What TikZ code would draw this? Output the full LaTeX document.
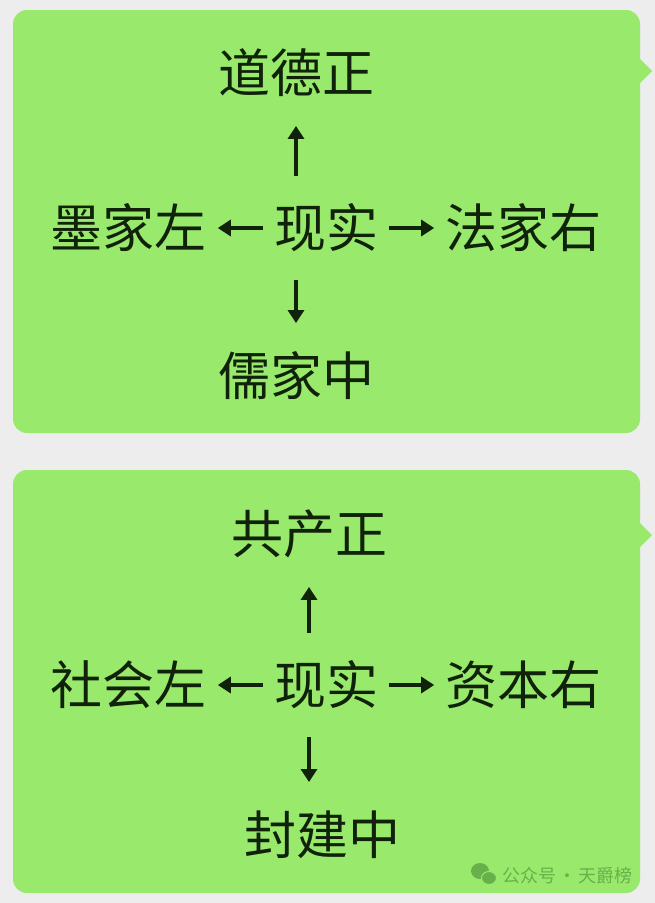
\documentclass[tikz,border=0pt]{standalone}
\usepackage{fontspec}
\newfontfamily\cjk{Noto Sans CJK SC}
\usepackage{tikz}
\usetikzlibrary{arrows.meta,positioning}
\definecolor{chatbg}{RGB}{237, 237, 237}
\definecolor{bubble}{RGB}{153, 234, 108}
\definecolor{ink}{RGB}{16, 34, 10}
\definecolor{markgreen}{RGB}{104, 176, 74}
\tikzstyle{chat} = [fill=bubble, rounded corners=14pt]
\tikzstyle{word} = [inner sep=0pt, text=ink, font=\cjk\fontsize{52pt}{52pt}\selectfont, text height=42.6pt, text depth=3.1pt]
\tikzstyle{marktext} = [inner sep=0pt, text=markgreen, font=\cjk\fontsize{18pt}{18pt}\selectfont, anchor=west]
\tikzstyle{tedge} = [draw, ink, line width=3.8pt, -{Triangle[length=13pt,width=16pt]}, shorten <=11pt, shorten >=11pt]
\tikzstyle{vedge} = [tedge, shorten <=29pt, shorten >=30pt]

\begin{document}
\begin{tikzpicture}[x=1pt, y=-1pt]

% background =============================
\fill[chatbg] (0,0) rectangle (655,903);
\useasboundingbox (0,0) rectangle (655,903);

% bubbles
\fill[chat] (13,10) rectangle (640,433);
\fill[bubble] (639,58) -- (652,71) -- (639,84) -- cycle;
\fill[chat] (13,470) rectangle (640,893);
\fill[bubble] (639,522) -- (652,535) -- (639,548) -- cycle;

% first bubble ===========================
\node[word] (real1) at (326,228) {现实};
\node[word, left=67pt of real1] (left1) {墨家左};
\node[word, right=67pt of real1] (right1) {法家右};
\node[word, above=109pt of real1, xshift=-30pt] (top1) {道德正};
\node[word, below=102pt of real1, xshift=-30pt] (bot1) {儒家中};

% edges
\path[tedge] (real1) -- (left1);
\path[tedge] (real1) -- (right1);
\path[vedge] (real1.north -| top1) -- (top1.south);
\path[vedge] (real1.south -| top1) -- (bot1.north -| top1);

% second bubble ==========================
\node[word] (real2) at (326,685) {现实};
\node[word, left=67pt of real2] (left2) {社会左};
\node[word, right=67pt of real2] (right2) {资本右};
\node[word, above=105pt of real2, xshift=-17pt] (top2) {共产正};
\node[word, below=104pt of real2, xshift=-4pt] (bot2) {封建中};

% edges
\path[tedge] (real2) -- (left2);
\path[tedge] (real2) -- (right2);
\path[vedge] (real2.north -| top2) -- (top2.south);
\path[vedge] (real2.south -| top2) -- (bot2.north -| top2);

% watermark
\fill[markgreen] (480,871) ellipse (9pt and 8pt);
\fill[markgreen, draw=bubble, line width=1pt] (489,878) ellipse (7.5pt and 6.5pt);
\node[marktext] (brand) at (502,876) {公众号\kern2pt·\kern2pt天爵榜};

\end{tikzpicture}
\end{document}
